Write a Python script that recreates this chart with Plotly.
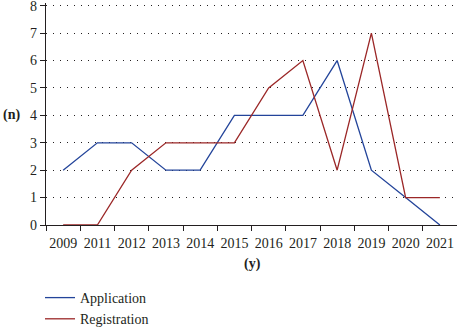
import plotly.graph_objects as go

years = ["2009", "2011", "2012", "2013", "2014", "2015", "2016", "2017", "2018", "2019", "2020", "2021"]
application = [2, 3, 3, 2, 2, 4, 4, 4, 6, 2, 1, 0]
registration = [0, 0, 2, 3, 3, 3, 5, 6, 2, 7, 1, 1]
y_ticks = [0, 1, 2, 3, 4, 5, 6, 7, 8]

FONT = "Liberation Serif, DejaVu Serif, serif"
BLUE = "#23449a"
RED = "#9b2727"
INK = "#231f20"

fig = go.Figure()
fig.add_trace(go.Scatter(x=years, y=application, mode="lines", name="Application",
                         line=dict(color=BLUE, width=1.3)))
fig.add_trace(go.Scatter(x=years, y=registration, mode="lines", name="Registration",
                         line=dict(color=RED, width=1.3)))

L, R, T, B = 46, 0, 3, 102
W, H = 457, 327
pw, ph = W - L - R, H - T - B

def px_x(x):
    return (x - L) / pw

def px_y(y):
    return (H - B - y) / ph

fig.update_layout(
    width=W, height=H,
    margin=dict(l=L, r=R, t=T, b=B, autoexpand=False),
    paper_bgcolor="white", plot_bgcolor="white",
    font=dict(family=FONT, size=14, color=INK),
    showlegend=True,
    legend=dict(x=px_x(40), y=px_y(282), xanchor="left", yanchor="top",
                bgcolor="rgba(0,0,0,0)", font=dict(size=14, family=FONT),
                itemwidth=30, tracegroupgap=0),
    xaxis=dict(type="category", showline=True, linecolor=INK, linewidth=1.3,
               ticks="outside", tickson="boundaries", ticklen=5, tickcolor=INK,
               showgrid=False, zeroline=False, tickfont=dict(size=14, family=FONT),
               tickangle=0, automargin=False, ticklabelstandoff=5, range=[-0.5, 11.5]),
    yaxis=dict(range=[0, 8.1], tickvals=y_ticks, showline=True, linecolor=INK, linewidth=1.3,
               ticks="outside", ticklen=5, tickcolor=INK, automargin=False,
               ticklabeloverflow="allow",
               showgrid=True, gridcolor=INK, gridwidth=1, griddash="1px,6px",
               zeroline=False, tickfont=dict(size=14, family=FONT)),
    annotations=[
        dict(text="<b>(n)</b>", x=px_x(11), y=px_y(115), xref="paper", yref="paper",
             xanchor="center", yanchor="middle",
             showarrow=False, font=dict(size=14, family=FONT)),
        dict(text="<b>(y)</b>", x=px_x(252), y=px_y(264), xref="paper", yref="paper",
             xanchor="center", yanchor="middle",
             showarrow=False, font=dict(size=14, family=FONT)),
    ],
)

fig.write_html("out.html")
